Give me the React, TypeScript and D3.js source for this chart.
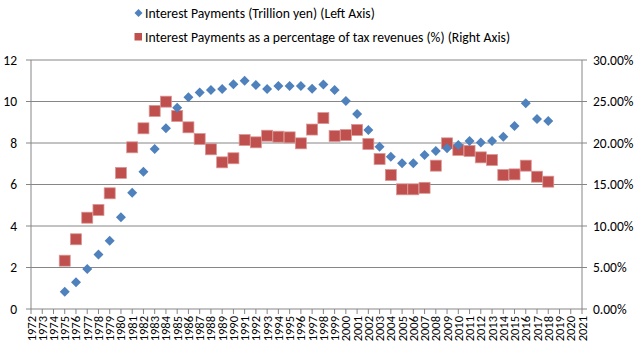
import React from "react";
import * as d3 from "d3";

const years = d3.range(1972, 2022).map(String);

// Interest payments, trillion yen (left axis), 1975-2018
const paymentYears = d3.range(1975, 2019).map(String);
const payments = [
  0.83, 1.29, 1.93, 2.63, 3.29, 4.42, 5.6, 6.62, 7.71, 8.71,
  9.7, 10.2, 10.43, 10.55, 10.6, 10.83, 11.0, 10.8, 10.6, 10.75,
  10.75, 10.75, 10.62, 10.82, 10.55, 10.02, 9.4, 8.63, 7.82, 7.34,
  7.02, 7.02, 7.42, 7.61, 7.75, 7.9, 8.1, 8.03, 8.1, 8.3,
  8.82, 9.91, 9.16, 9.06,
];

// Interest payments as % of tax revenues (right axis)
const shares = [
  5.82, 8.4, 11.0, 11.93, 13.94, 16.4, 19.48, 21.77, 23.86, 24.98,
  23.25, 21.89, 20.48, 19.24, 17.67, 18.16, 20.36, 20.08, 20.88, 20.76,
  20.68, 19.96, 21.62, 23.0, 20.84, 20.96, 21.57, 19.88, 18.07, 16.14,
  14.42, 14.42, 14.6, 17.27, 19.96, 19.16, 19.04, 18.27, 17.95, 16.14,
  16.22, 17.27, 15.94, 15.34,
];

const leftTicks = [0, 2, 4, 6, 8, 10, 12];
const rightTicks = [0, 5, 10, 15, 20, 25, 30];

const legendLabels = [
  "Interest Payments (Trillion yen) (Left Axis)",
  "Interest Payments as a percentage of tax revenues (%) (Right Axis)",
];

const BLUE = "#4F81BD";
const RED = "#C0504D";
const AXIS = "#868686";
const FONT = "Carlito, Calibri, 'Liberation Sans', Arial, sans-serif";

const diamondPath = (r: number) => `M0,${-r}L${r},0L0,${r}L${-r},0Z`;

export default function App() {
  const width = 640;
  const height = 360;
  const left = 31;
  const right = 582;
  const top = 60;
  const bottom = 309;

  const x = d3.scalePoint<string>().domain(years).range([left, right]);
  const yL = d3.scaleLinear().domain([0, 12]).range([bottom, top]);
  const yR = d3.scaleLinear().domain([0, 30]).range([bottom, top]);

  return (
    <svg
      width={width}
      height={height}
      style={{ position: "absolute", left: 0, top: 0, fontFamily: FONT }}
    >
      <rect width={width} height={height} fill="#fff" />

      {/* gridlines */}
      {leftTicks.slice(1).map((t) => (
        <line key={t} x1={left} x2={right} y1={yL(t)} y2={yL(t)} stroke={AXIS} strokeWidth={1} />
      ))}

      {/* axes */}
      <line x1={left} x2={left} y1={top} y2={bottom} stroke={AXIS} />
      <line x1={right} x2={right} y1={top} y2={bottom} stroke={AXIS} />
      <line x1={left} x2={right} y1={bottom} y2={bottom} stroke={AXIS} />

      {leftTicks.map((t) => (
        <g key={"l" + t}>
          <line x1={left - 5} x2={left} y1={yL(t)} y2={yL(t)} stroke={AXIS} />
          <text x={17} y={yL(t)} dy="0.35em" textAnchor="end" fontSize={13.5} fill="#000">
            {t}
          </text>
        </g>
      ))}

      {rightTicks.map((t) => (
        <g key={"r" + t}>
          <line x1={right} x2={right + 5} y1={yR(t)} y2={yR(t)} stroke={AXIS} />
          <text x={593} y={yR(t)} dy="0.35em" textAnchor="start" fontSize={13.5} fill="#000">
            {t.toFixed(2) + "%"}
          </text>
        </g>
      ))}

      {years.map((yr) => (
        <g key={yr}>
          <line x1={x(yr)} x2={x(yr)} y1={bottom} y2={bottom + 5} stroke={AXIS} />
          <text
            transform={`translate(${x(yr)! + 4.5},${bottom + 7}) rotate(-90)`}
            textAnchor="end"
            fontSize={12.5}
            fill="#000"
          >
            {yr}
          </text>
        </g>
      ))}

      {/* red squares */}
      {shares.map((v, i) => (
        <rect
          key={"s" + i}
          x={x(paymentYears[i])! - 5.5}
          y={yR(v) - 5.5}
          width={11}
          height={11}
          fill={RED}
          stroke="#D99795"
          strokeWidth={0.75}
        />
      ))}

      {/* blue diamonds */}
      {payments.map((v, i) => (
        <path
          key={"p" + i}
          d={diamondPath(5)}
          transform={`translate(${x(paymentYears[i])},${yL(v)})`}
          fill={BLUE}
        />
      ))}

      {/* legend */}
      <path d={diamondPath(4)} transform="translate(138.5,13)" fill={BLUE} />
      <text x={145} y={13} dy="0.35em" fontSize={13.7} fill="#000">
        {legendLabels[0]}
      </text>
      <rect x={134.5} y={33} width={7.5} height={7.5} fill={RED} />
      <text x={145} y={37} dy="0.35em" fontSize={13.7} fill="#000">
        {legendLabels[1]}
      </text>
    </svg>
  );
}
